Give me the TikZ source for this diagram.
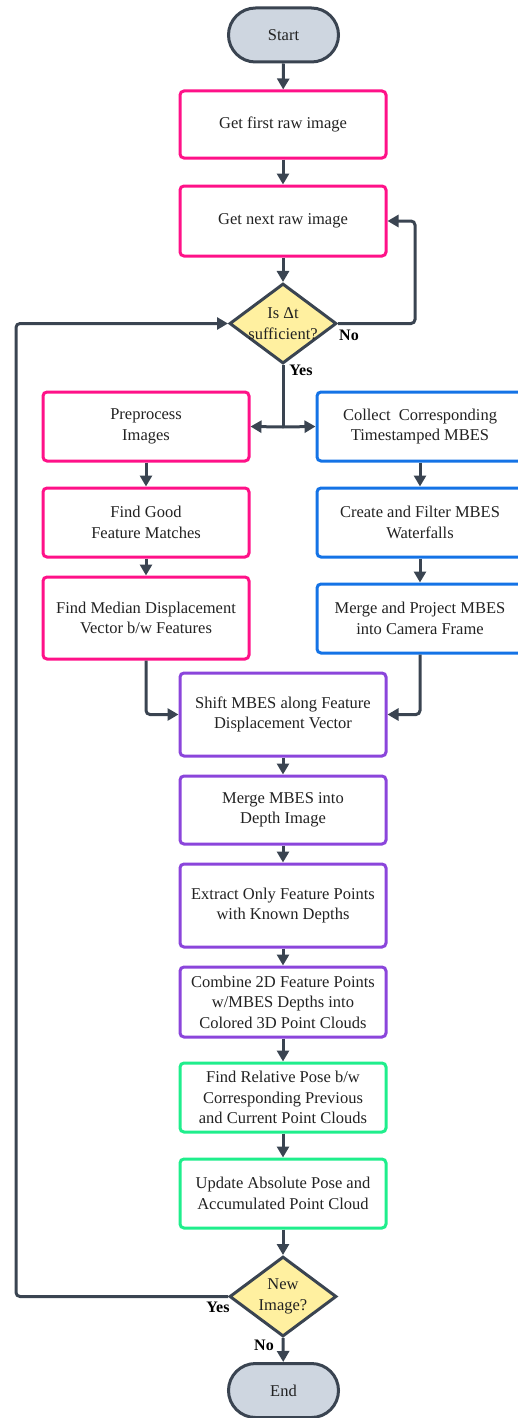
\documentclass[tikz,border=0pt]{standalone}
\usepackage{fontspec}
\setmainfont{Liberation Serif}
\usetikzlibrary{arrows.meta,shapes.geometric}

\definecolor{linec}{HTML}{3A4451}
\definecolor{pinkc}{HTML}{FF1188}
\definecolor{bluec}{HTML}{1473E6}
\definecolor{purplec}{HTML}{8B45DB}
\definecolor{greenc}{HTML}{1FEE8C}
\definecolor{decfill}{HTML}{FFF0A0}
\definecolor{termfill}{HTML}{CED6E0}
\definecolor{textc}{HTML}{222222}

\tikzset{
  base/.style={align=center, text=textc, font=\fontsize{16.5}{20.5}\selectfont, inner sep=0pt},
  procbox/.style={base, draw=#1, fill=white, line width=3pt, rounded corners=4pt,
    minimum width=206pt, minimum height=69pt},
  term/.style={base, draw=linec, fill=termfill, line width=3pt, rounded corners=27pt,
    minimum width=110pt, minimum height=54pt},
  decision/.style={diamond, draw=linec, fill=decfill, line width=3pt, inner sep=0pt,
    minimum width=107pt, minimum height=80pt, aspect=1.34},
  dtext/.style={base},
  conn/.style={draw=linec, line width=3pt, rounded corners=4pt,
    -{Triangle[length=11pt,width=12pt]}},
  plain/.style={draw=linec, line width=3pt, rounded corners=4pt},
  tag/.style={base, font=\fontsize{16}{20}\selectfont\bfseries, text=black},
}

\begin{document}
\begin{tikzpicture}[x=1pt,y=-1pt]
\useasboundingbox (0,0) rectangle (518,1418);
\clip (0,0) rectangle (518,1418);

% main column
\node[term] (start) at (283.5,35) {Start};
\node[procbox=pinkc, minimum height=67pt] (first) at (283,124.5) {Get first raw image};
\node[procbox=pinkc, minimum height=70pt] (next) at (283,221) {Get next raw image};
\node[decision] (d1) at (283,323.5) {};
\node[dtext] at (d1.center) {Is Δt\\sufficient?};

% image branch
\node[procbox=pinkc] (pre) at (146,426.5) {Preprocess\\Images};
\node[procbox=pinkc] (good) at (146,522.5) {Find Good\\Feature Matches};
\node[procbox=pinkc, minimum height=82pt] (median) at (146,618) {Find Median Displacement\\Vector b/w Features};

% MBES branch
\node[procbox=bluec] (col) at (420,426.5) {Collect\ \ Corresponding\\Timestamped MBES};
\node[procbox=bluec] (create) at (420,522.5) {Create and Filter MBES\\Waterfalls};
\node[procbox=bluec] (project) at (420,618.5) {Merge and Project MBES\\into Camera Frame};

% fusion
\node[procbox=purplec, minimum height=83pt] (shift) at (283,714.5) {Shift MBES along Feature\\Displacement Vector};
\node[procbox=purplec, minimum height=68pt] (mdepth) at (283,810) {Merge MBES into\\Depth Image};
\node[procbox=purplec, minimum height=83pt] (extract) at (283,905.5) {Extract Only Feature Points\\with Known Depths};
\node[procbox=purplec, minimum height=70pt] (combine) at (283,1002) {Combine 2D Feature Points\\w/MBES Depths into\\Colored 3D Point Clouds};

% pose
\node[procbox=greenc] (relpose) at (283,1097.5) {Find Relative Pose b/w\\Corresponding Previous\\and Current Point Clouds};
\node[procbox=greenc] (update) at (283,1193.5) {Update Absolute Pose and\\Accumulated Point Cloud};
\node[decision] (d2) at (283,1296.5) {};
\node[dtext] at (d2.center) {New\\Image?};
\node[term] (end) at (283.5,1390.5) {End};

% connectors
\draw[conn] (start) -- (first);
\draw[conn] (first) -- (next);
\draw[conn] (next) -- (d1);
\draw[conn] (d1.east) -- ++(77,0) |- (next.east);
\coordinate (split) at (283,427);
\draw[plain] (d1.south) -- (split);
\draw[conn] (split) -- (pre.east);
\draw[conn] (split) -- (col.west);
\draw[conn] (pre) -- (good);
\draw[conn] (good) -- (median);
\draw[conn] (col) -- (create);
\draw[conn] (create) -- (project);
\draw[conn] (median.south) |- (shift.west);
\draw[conn] (project.south) |- (shift.east);
\draw[conn] (shift) -- (mdepth);
\draw[conn] (mdepth) -- (extract);
\draw[conn] (extract) -- (combine);
\draw[conn] (combine) -- (relpose);
\draw[conn] (relpose) -- (update);
\draw[conn] (update) -- (d2);
\coordinate (loop) at (16,1296.5);
\draw[conn] (d2.west) -- (loop) |- (d1.west);
\draw[conn] (d2.south) -- (end);

% branch labels
\node[tag] (tno1) at (349,335) {No};
\node[tag] (tyes1) at (301,370) {Yes};
\node[tag] (tyes2) at (218,1307) {Yes};
\node[tag] (tno2) at (264,1345) {No};
\end{tikzpicture}
\end{document}
